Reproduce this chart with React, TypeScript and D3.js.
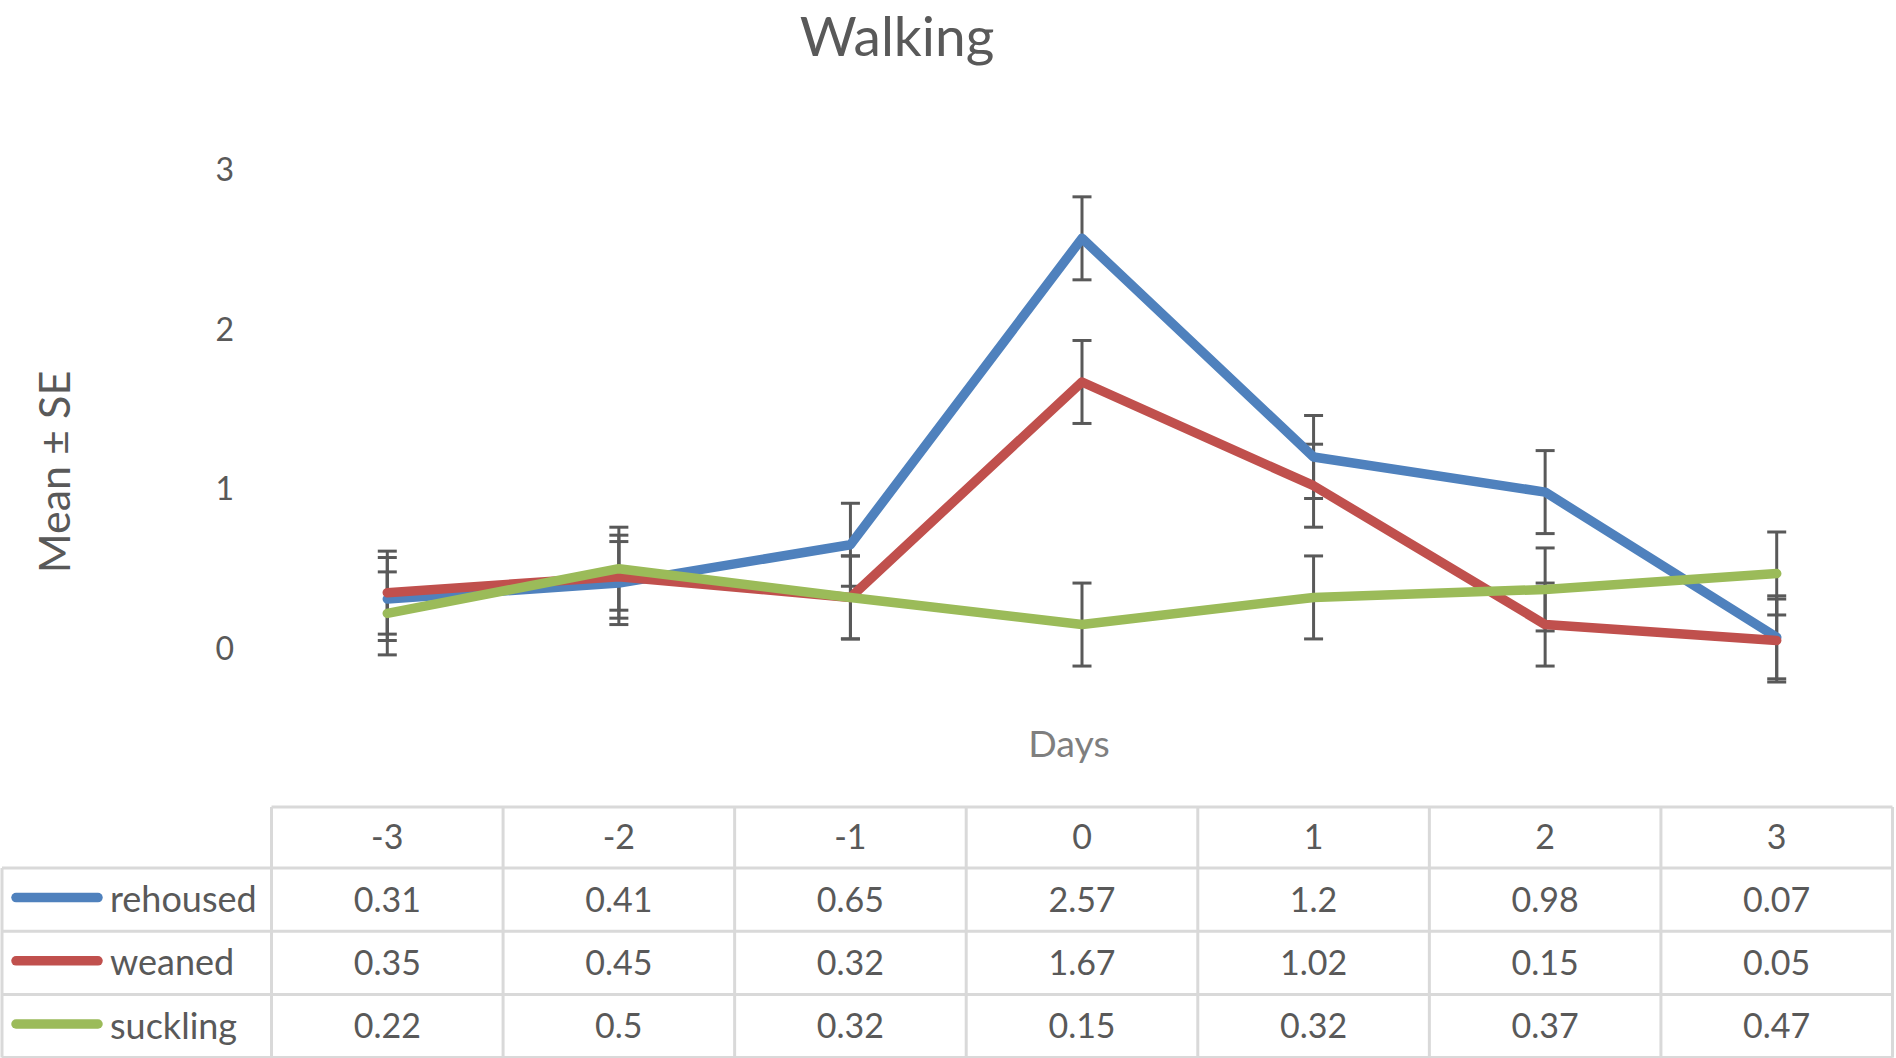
import * as d3 from "d3";
import { useRef, useEffect } from "react";

// data
const days = ["-3", "-2", "-1", "0", "1", "2", "3"];
const rehoused = [0.31, 0.41, 0.65, 2.57, 1.2, 0.98, 0.07];
const weaned = [0.35, 0.45, 0.32, 1.67, 1.02, 0.15, 0.05];
const suckling = [0.22, 0.5, 0.32, 0.15, 0.32, 0.37, 0.47];
// standard errors (same size on every point)
const seRehoused = [0.26, 0.26, 0.26, 0.26, 0.26, 0.26, 0.26];
const seWeaned = [0.26, 0.26, 0.26, 0.26, 0.26, 0.26, 0.26];
const seSuckling = [0.26, 0.26, 0.26, 0.26, 0.26, 0.26, 0.26];
const yTicks = [0, 1, 2, 3];

const seriesNames = ["rehoused", "weaned", "suckling"];
const seriesColors = ["#4F81BD", "#C0504D", "#9BBB59"];

export default function App() {
  const svgRef = useRef<SVGSVGElement>(null);

  useEffect(() => {
    if (!svgRef.current) return;
    document.body.style.margin = "0";

    const svg = d3.select(svgRef.current);
    svg.selectAll("*").remove();

    const series = [
      { name: seriesNames[0], color: seriesColors[0], values: rehoused, se: seRehoused },
      { name: seriesNames[1], color: seriesColors[1], values: weaned, se: seWeaned },
      { name: seriesNames[2], color: seriesColors[2], values: suckling, se: seSuckling },
    ];

    const textColor = "#595959";
    const gridColor = "#D9D9D9";

    // --- scales ---
    const x = d3.scaleBand<string>().domain(days).range([271.5, 1892.5]);
    const cx = (d: string) => (x(d) ?? 0) + x.bandwidth() / 2;
    const y = d3.scaleLinear().domain([0, 3]).range([648.5, 169.7]);

    // --- title ---
    svg
      .append("text")
      .attr("x", 897)
      .attr("y", 56)
      .attr("text-anchor", "middle")
      .attr("font-size", 55)
      .attr("fill", textColor)
      .text("Walking");

    // --- y axis labels ---
    svg
      .append("g")
      .selectAll("text")
      .data(yTicks)
      .enter()
      .append("text")
      .attr("x", 234)
      .attr("y", (d) => y(d))
      .attr("dy", "0.36em")
      .attr("text-anchor", "end")
      .attr("font-size", 32)
      .attr("fill", textColor)
      .text((d) => String(d));

    svg
      .append("text")
      .attr("transform", "translate(55,472) rotate(-90)")
      .attr("dy", "0.36em")
      .attr("text-anchor", "middle")
      .attr("font-size", 43)
      .attr("fill", textColor)
      .text("Mean ± SE");

    svg
      .append("text")
      .attr("x", 1069)
      .attr("y", 757)
      .attr("text-anchor", "middle")
      .attr("font-size", 37.5)
      .attr("fill", "#7F7F7F")
      .text("Days");

    // --- error bars (under the lines) ---
    const capHalf = 9.5;
    const bars = svg.append("g").attr("stroke", textColor).attr("stroke-width", 3);
    series.forEach((s) => {
      s.values.forEach((v, i) => {
        const px = cx(days[i]);
        const top = y(v + s.se[i]);
        const bot = y(v - s.se[i]);
        bars.append("line").attr("x1", px).attr("x2", px).attr("y1", top).attr("y2", bot);
        bars.append("line").attr("x1", px - capHalf).attr("x2", px + capHalf).attr("y1", top).attr("y2", top);
        bars.append("line").attr("x1", px - capHalf).attr("x2", px + capHalf).attr("y1", bot).attr("y2", bot);
      });
    });

    // --- lines ---
    const line = d3
      .line<number>()
      .x((_, i) => cx(days[i]))
      .y((d) => y(d));

    svg
      .append("g")
      .selectAll("path")
      .data(series)
      .enter()
      .append("path")
      .attr("d", (s) => line(s.values))
      .attr("fill", "none")
      .attr("stroke", (s) => s.color)
      .attr("stroke-width", 9.5)
      .attr("stroke-linejoin", "round")
      .attr("stroke-linecap", "round");

    // --- data table ---
    const tableTop = 807;
    const headerH = 61;
    const rowH = 63.2;
    const left = 2;
    const [colStart, colEnd] = x.range();
    const rowY = (r: number) => tableTop + headerH + r * rowH;
    const tableBottom = rowY(series.length);

    const grid = svg.append("g").attr("stroke", gridColor).attr("stroke-width", 3);
    grid.append("line").attr("x1", colStart).attr("x2", colEnd).attr("y1", tableTop).attr("y2", tableTop);
    d3.range(series.length + 1).forEach((r) => {
      grid.append("line").attr("x1", left).attr("x2", colEnd).attr("y1", rowY(r)).attr("y2", rowY(r));
    });
    grid.append("line").attr("x1", left).attr("x2", left).attr("y1", rowY(0)).attr("y2", tableBottom);
    [...days.map((d) => x(d) ?? 0), colEnd].forEach((vx) => {
      grid.append("line").attr("x1", vx).attr("x2", vx).attr("y1", tableTop).attr("y2", tableBottom);
    });

    // header row
    svg
      .append("g")
      .selectAll("text")
      .data(days)
      .enter()
      .append("text")
      .attr("x", (d) => cx(d))
      .attr("y", tableTop + headerH / 2)
      .attr("dy", "0.35em")
      .attr("text-anchor", "middle")
      .attr("font-size", 34)
      .attr("fill", textColor)
      .text((d) => d);

    // series rows with legend keys
    series.forEach((s, r) => {
      const mid = rowY(r) + rowH / 2;
      const g = svg.append("g");
      g.append("line")
        .attr("x1", 16)
        .attr("x2", 98)
        .attr("y1", mid - 2)
        .attr("y2", mid - 2)
        .attr("stroke", s.color)
        .attr("stroke-width", 9.5)
        .attr("stroke-linecap", "round");
      g.append("text")
        .attr("x", 110)
        .attr("y", mid)
        .attr("dy", "0.35em")
        .attr("font-size", 36)
        .attr("fill", textColor)
        .text(s.name);
      g.selectAll(".val")
        .data(s.values)
        .enter()
        .append("text")
        .attr("class", "val")
        .attr("x", (_, i) => cx(days[i]))
        .attr("y", mid)
        .attr("dy", "0.35em")
        .attr("text-anchor", "middle")
        .attr("font-size", 34)
        .attr("fill", textColor)
        .text((d) => String(d));
    });
  }, []);

  return (
    <svg
      ref={svgRef}
      width={1896}
      height={1058}
      fontFamily="Lato, 'Open Sans', sans-serif"
      style={{ display: "block", background: "#fff" }}
    />
  );
}
